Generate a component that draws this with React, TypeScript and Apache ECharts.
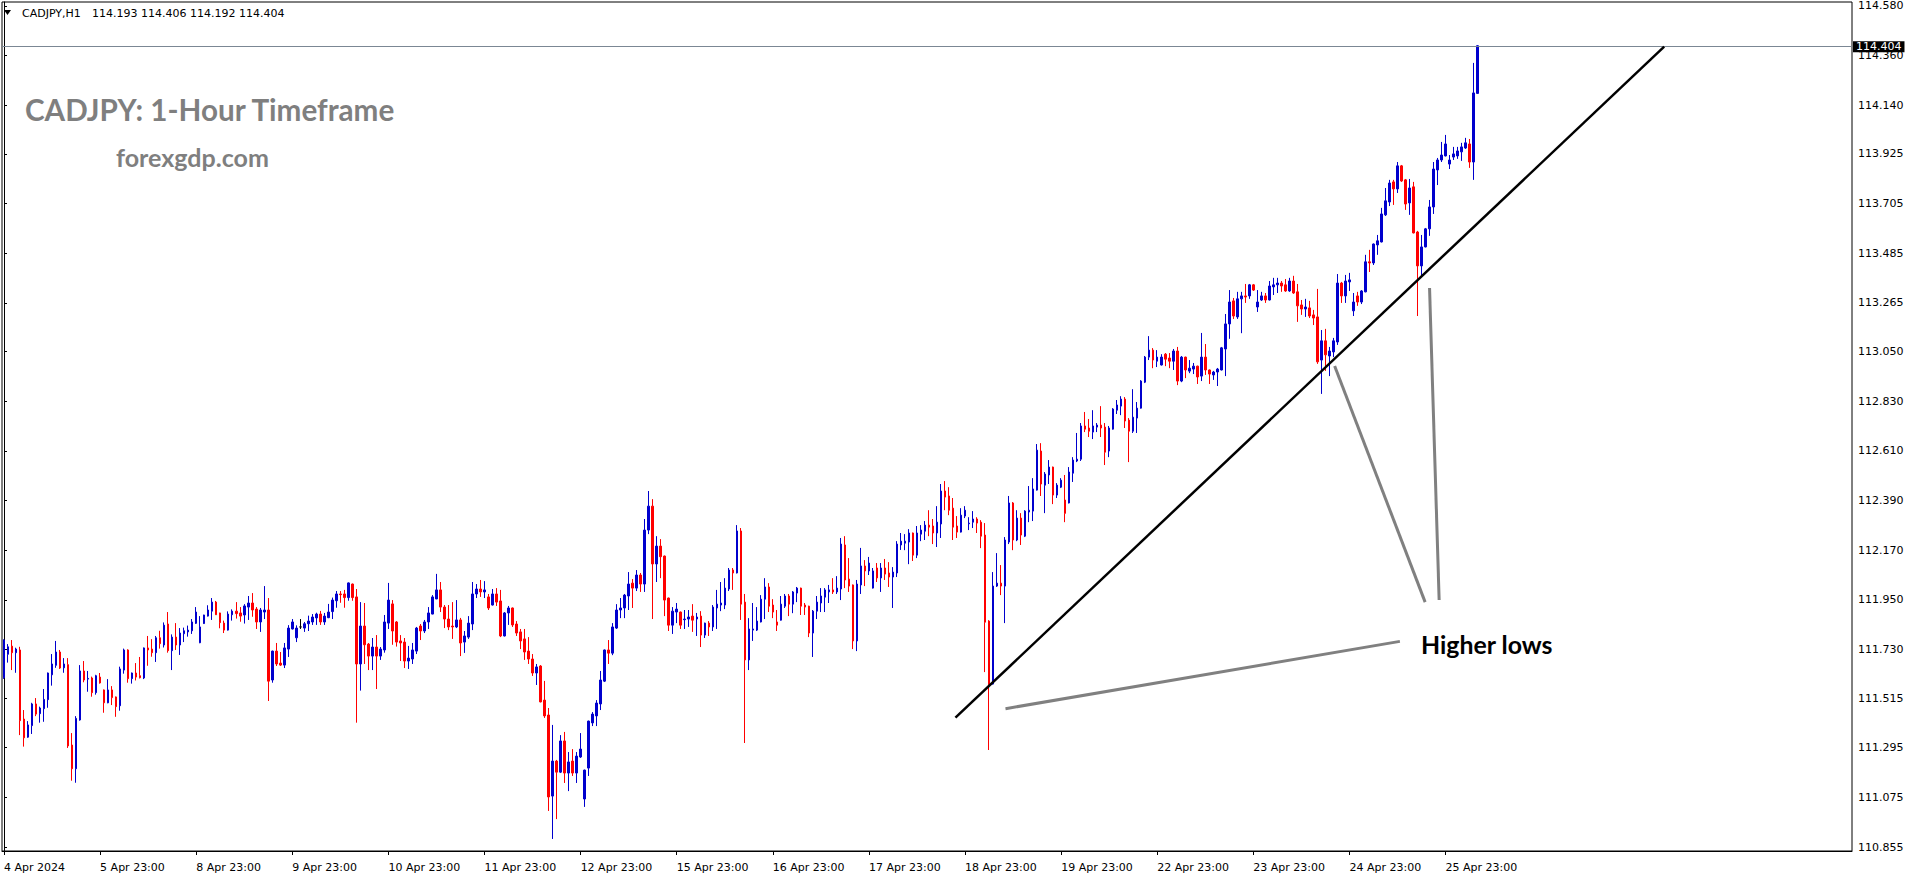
import React, { useEffect, useRef } from 'react';
import * as echarts from 'echarts';

// ---- Hourly CADJPY candles (4 Apr 2024 .. 26 Apr 2024) ----
const opens = [
111.605,111.709,111.745,111.716,111.728,111.422,111.342,111.393,111.489,111.446,111.468,111.508,111.618,111.660,111.719,111.649,111.663,111.307,111.202,111.418,
111.635,111.599,111.604,111.539,111.608,111.551,111.494,111.551,111.520,111.481,111.639,111.728,111.601,111.626,111.614,111.604,111.737,111.732,111.716,111.782,
111.750,111.843,111.725,111.785,111.750,111.800,111.808,111.813,111.846,111.760,111.845,111.878,111.900,111.940,111.892,111.847,111.816,111.884,111.900,111.892,
111.883,111.918,111.936,111.909,111.852,111.896,111.905,111.595,111.723,111.670,111.661,111.732,111.821,111.782,111.830,111.825,111.844,111.852,111.870,111.887,
111.852,111.871,111.898,111.946,111.976,111.976,111.960,112.020,111.963,111.666,111.834,111.754,111.701,111.741,111.701,111.728,111.847,111.932,111.852,111.768,
111.763,111.679,111.688,111.723,111.834,111.812,111.852,111.887,111.954,111.994,111.918,111.865,111.834,111.830,111.861,111.763,111.785,111.843,111.976,111.998,
111.985,111.963,111.927,111.976,111.945,111.790,111.892,111.914,111.843,111.808,111.777,111.723,111.688,111.626,111.657,111.506,111.440,111.081,111.236,111.187,
111.325,111.183,111.236,111.183,111.254,111.068,111.205,111.405,111.436,111.489,111.590,111.728,111.714,111.825,111.905,111.914,111.967,112.024,112.002,112.060,
112.020,112.259,112.365,112.109,112.188,112.144,111.958,111.838,111.896,111.896,111.862,111.865,111.878,111.865,111.878,111.794,111.847,111.830,111.914,111.927,
111.927,111.998,112.082,112.069,112.255,111.940,111.684,111.816,111.816,111.852,111.953,112.007,111.927,111.852,111.860,111.922,111.967,111.931,111.980,112.002,
111.927,111.922,111.803,111.900,111.936,111.962,111.985,111.994,111.985,111.998,112.193,112.042,112.016,111.768,112.016,112.100,112.078,112.002,112.091,112.047,
112.091,112.069,112.051,112.069,112.193,112.201,112.206,112.246,112.148,112.241,112.254,112.281,112.277,112.246,112.286,112.432,112.410,112.356,112.277,112.250,
112.321,112.287,112.294,112.308,112.294,112.237,111.856,111.577,112.011,112.024,112.011,112.206,112.379,112.215,112.312,112.232,112.339,112.343,112.436,112.609,
112.458,112.503,112.538,112.414,112.449,112.392,112.379,112.511,112.565,112.573,112.720,112.711,112.693,112.715,112.724,112.715,112.609,112.706,112.790,112.808,
112.839,112.746,112.697,112.755,112.799,112.914,113.025,113.056,113.007,112.990,113.038,113.021,113.007,113.052,112.919,113.025,112.963,112.972,112.985,112.941,
113.025,112.968,112.946,112.959,112.968,113.061,113.172,113.274,113.203,113.283,113.296,113.296,113.345,113.247,113.278,113.296,113.278,113.336,113.345,113.353,
113.345,113.318,113.362,113.314,113.256,113.238,113.243,113.212,113.203,113.012,113.097,113.030,113.048,113.092,113.353,113.296,113.358,113.230,113.296,113.269,
113.314,113.447,113.442,113.522,113.535,113.655,113.712,113.801,113.770,113.872,113.810,113.708,113.779,113.579,113.429,113.513,113.593,113.690,113.854,113.898,
113.916,113.880,113.911,113.916,113.934,113.951,113.969,113.889,114.193
];
const closes = [
111.772,111.742,111.716,111.732,111.415,111.339,111.396,111.489,111.444,111.471,111.509,111.626,111.666,111.719,111.648,111.666,111.303,111.202,111.425,111.635,
111.595,111.602,111.539,111.614,111.582,111.494,111.551,111.517,111.477,111.644,111.728,111.601,111.626,111.608,111.605,111.737,111.728,111.716,111.782,111.756,
111.838,111.725,111.785,111.750,111.803,111.813,111.816,111.852,111.896,111.830,111.883,111.905,111.940,111.884,111.849,111.816,111.887,111.900,111.889,111.878,
111.923,111.936,111.905,111.852,111.905,111.905,111.590,111.723,111.666,111.661,111.737,111.825,111.852,111.825,111.830,111.844,111.856,111.874,111.887,111.852,
111.878,111.896,111.949,111.976,111.973,111.960,112.025,111.960,111.666,111.834,111.751,111.701,111.741,111.701,111.732,111.852,111.949,111.812,111.763,111.759,
111.679,111.692,111.728,111.825,111.812,111.852,111.892,111.963,111.994,111.918,111.865,111.830,111.830,111.861,111.759,111.790,111.847,111.976,111.998,111.985,
111.994,111.914,111.976,111.940,111.790,111.892,111.914,111.839,111.803,111.768,111.719,111.688,111.626,111.653,111.498,111.436,111.077,111.236,111.187,111.325,
111.183,111.232,111.183,111.258,111.289,111.196,111.413,111.444,111.493,111.595,111.728,111.714,111.830,111.905,111.914,111.971,112.020,112.002,112.060,112.020,
112.259,112.365,112.109,112.188,112.141,111.949,111.838,111.900,111.909,111.838,111.865,111.874,111.860,111.874,111.794,111.847,111.830,111.918,111.931,111.936,
112.002,112.082,112.069,112.255,111.931,111.684,111.821,111.821,111.856,111.953,112.007,111.922,111.896,111.838,111.931,111.967,111.931,111.985,112.002,111.922,
111.918,111.803,111.900,111.940,111.967,111.994,111.994,111.985,112.002,112.197,112.038,112.011,111.768,112.020,112.100,112.078,112.113,112.078,112.047,112.091,
112.064,112.051,112.073,112.197,112.210,112.210,112.246,112.148,112.246,112.259,112.281,112.272,112.246,112.294,112.432,112.405,112.347,112.272,112.250,112.325,
112.347,112.290,112.308,112.290,112.232,111.851,111.577,112.011,112.024,112.011,112.215,112.379,112.215,112.312,112.237,112.343,112.347,112.441,112.613,112.463,
112.507,112.538,112.414,112.458,112.480,112.333,112.516,112.569,112.573,112.720,112.706,112.697,112.720,112.724,112.711,112.604,112.711,112.795,112.813,112.839,
112.742,112.697,112.759,112.799,112.919,113.025,113.056,113.012,113.025,113.025,113.016,113.007,113.052,112.919,113.025,112.968,112.976,112.985,112.937,113.025,
112.968,112.950,112.959,112.972,113.066,113.172,113.269,113.207,113.283,113.296,113.291,113.345,113.322,113.269,113.296,113.278,113.340,113.345,113.353,113.340,
113.318,113.362,113.309,113.252,113.238,113.247,113.207,113.198,113.004,113.097,113.035,113.052,113.097,113.353,113.296,113.362,113.367,113.269,113.269,113.318,
113.447,113.442,113.526,113.540,113.659,113.717,113.796,113.770,113.872,113.805,113.703,113.774,113.575,113.429,113.513,113.593,113.690,113.858,113.898,113.920,
113.969,113.898,113.925,113.938,113.956,113.974,113.889,114.195,114.404
];
const lows = [
111.600,111.672,111.639,111.627,111.351,111.300,111.339,111.356,111.435,111.406,111.410,111.472,111.570,111.649,111.644,111.627,111.294,111.149,111.140,111.415,
111.585,111.543,111.521,111.530,111.579,111.450,111.492,111.484,111.432,111.459,111.623,111.583,111.579,111.593,111.602,111.599,111.658,111.698,111.675,111.734,
111.739,111.716,111.639,111.728,111.706,111.763,111.787,111.799,111.843,111.758,111.843,111.876,111.861,111.883,111.824,111.803,111.814,111.858,111.867,111.853,
111.845,111.861,111.875,111.821,111.808,111.865,111.502,111.583,111.657,111.657,111.648,111.697,111.819,111.763,111.821,111.808,111.812,111.839,111.839,111.839,
111.839,111.869,111.865,111.915,111.937,111.915,111.946,111.946,111.406,111.548,111.666,111.639,111.639,111.555,111.684,111.716,111.821,111.751,111.743,111.679,
111.648,111.644,111.666,111.710,111.772,111.803,111.821,111.886,111.953,111.896,111.825,111.816,111.777,111.825,111.701,111.715,111.777,111.816,111.958,111.963,
111.958,111.905,111.925,111.923,111.785,111.788,111.839,111.830,111.790,111.732,111.684,111.666,111.613,111.573,111.496,111.427,111.015,110.891,110.979,111.183,
111.139,111.103,111.170,111.139,111.250,111.033,111.170,111.391,111.391,111.462,111.586,111.666,111.705,111.821,111.869,111.869,111.905,111.914,111.989,111.985,
111.985,112.241,111.865,112.029,112.046,111.878,111.812,111.799,111.847,111.821,111.821,111.830,111.808,111.790,111.741,111.781,111.790,111.812,111.821,111.900,
111.909,111.989,111.994,112.067,111.861,111.316,111.639,111.768,111.812,111.850,111.865,111.896,111.869,111.812,111.858,111.914,111.878,111.891,111.940,111.883,
111.883,111.785,111.697,111.865,111.896,111.896,111.936,111.976,111.976,111.949,112.002,111.985,111.732,111.723,111.976,112.011,112.060,112.000,112.029,111.985,
112.038,112.007,111.914,112.051,112.171,112.170,112.108,112.122,112.135,112.210,112.215,112.232,112.197,112.184,112.224,112.347,112.325,112.215,112.224,112.248,
112.312,112.259,112.268,112.246,112.179,111.630,111.285,111.575,112.007,111.971,111.847,112.197,112.170,112.210,112.193,112.228,112.294,112.299,112.434,112.410,
112.334,112.463,112.374,112.401,112.445,112.294,112.377,112.472,112.560,112.565,112.693,112.671,112.662,112.693,112.671,112.547,112.582,112.704,112.773,112.768,
112.711,112.560,112.689,112.689,112.797,112.910,113.012,112.976,112.981,112.988,112.985,112.976,112.968,112.901,112.914,112.932,112.954,112.950,112.906,112.919,
112.946,112.906,112.924,112.897,112.966,112.941,113.106,113.194,113.194,113.131,113.265,113.283,113.318,113.225,113.274,113.265,113.276,113.300,113.309,113.314,
113.314,113.314,113.305,113.181,113.212,113.203,113.198,113.167,112.995,112.862,112.964,112.941,113.025,113.079,113.265,113.265,113.318,113.207,113.252,113.260,
113.312,113.402,113.433,113.478,113.533,113.650,113.694,113.699,113.752,113.801,113.677,113.655,113.573,113.207,113.380,113.511,113.562,113.659,113.787,113.889,
113.914,113.858,113.898,113.903,113.894,113.947,113.863,113.810,114.192
];
const highs = [
111.775,111.754,111.772,111.738,111.742,111.462,111.413,111.494,111.515,111.477,111.555,111.628,111.710,111.768,111.728,111.692,111.692,111.360,111.435,111.661,
111.679,111.635,111.610,111.618,111.626,111.553,111.599,111.568,111.522,111.654,111.734,111.731,111.628,111.670,111.697,111.739,111.790,111.776,111.790,111.813,
111.850,111.896,111.797,111.847,111.825,111.827,111.836,111.865,111.918,111.878,111.884,111.926,111.958,111.945,111.893,111.858,111.899,111.908,111.940,111.918,
111.931,111.967,111.980,111.918,111.914,112.011,111.958,111.725,111.759,111.719,111.759,111.838,111.865,111.837,111.865,111.852,111.880,111.887,111.893,111.901,
111.892,111.932,111.960,111.989,111.989,111.994,112.027,112.022,111.998,111.940,111.936,111.759,111.781,111.794,111.741,111.883,112.025,111.949,111.856,111.794,
111.781,111.746,111.759,111.830,111.843,111.861,111.918,111.971,112.065,112.029,111.927,111.927,111.940,111.949,111.870,111.812,111.878,112.029,112.020,112.038,
112.033,111.976,111.998,112.002,111.994,111.896,111.923,111.916,111.856,111.821,111.821,111.785,111.710,111.666,111.661,111.591,111.471,111.396,111.241,111.351,
111.365,111.276,111.289,111.276,111.360,111.198,111.415,111.453,111.506,111.635,111.730,111.772,111.847,111.931,111.958,111.976,112.073,112.042,112.082,112.069,
112.308,112.432,112.396,112.232,112.219,112.146,111.960,111.918,111.936,111.898,111.905,111.905,111.931,111.892,111.900,111.849,111.856,111.927,111.994,112.029,
112.046,112.091,112.091,112.281,112.268,111.976,111.869,111.936,111.918,111.971,112.046,112.024,111.953,111.905,111.967,111.976,111.976,111.989,112.007,112.004,
111.936,111.924,111.905,111.967,112.002,112.002,112.016,112.046,112.055,112.224,112.232,112.135,112.018,112.038,112.180,112.126,112.140,112.091,112.113,112.113,
112.131,112.117,112.095,112.210,112.246,112.241,112.263,112.248,112.277,112.281,112.299,112.347,112.308,112.365,112.463,112.476,112.449,112.401,112.321,112.356,
112.365,112.316,112.343,112.316,112.303,112.290,111.860,112.073,112.157,112.104,112.228,112.410,112.383,112.347,112.334,112.347,112.454,112.489,112.640,112.644,
112.516,112.569,112.540,112.467,112.489,112.503,112.538,112.582,112.689,112.733,112.782,112.751,112.790,112.733,112.808,112.733,112.720,112.799,112.835,112.852,
112.848,112.755,112.883,112.826,112.923,113.030,113.118,113.065,113.056,113.038,113.043,113.043,113.061,113.070,113.030,113.027,113.012,112.999,112.987,113.132,
113.083,112.970,112.964,112.977,113.070,113.216,113.322,113.287,113.314,113.314,113.349,113.349,113.349,113.322,113.314,113.309,113.362,113.376,113.376,113.362,
113.371,113.376,113.385,113.349,113.278,113.283,113.274,113.234,113.327,113.145,113.150,113.070,113.110,113.393,113.358,113.389,113.398,113.309,113.314,113.322,
113.478,113.500,113.528,113.566,113.686,113.774,113.810,113.810,113.889,113.876,113.814,113.814,113.801,113.584,113.566,113.597,113.721,113.889,113.907,113.978,
114.009,113.920,113.956,113.956,113.974,113.996,113.991,114.328,114.406
];

// time-axis labels, one every 24 hourly bars
const dateLabels = [
  '4 Apr 2024', '5 Apr 23:00', '8 Apr 23:00', '9 Apr 23:00', '10 Apr 23:00', '11 Apr 23:00',
  '12 Apr 23:00', '15 Apr 23:00', '16 Apr 23:00', '17 Apr 23:00', '18 Apr 23:00', '19 Apr 23:00',
  '22 Apr 23:00', '23 Apr 23:00', '24 Apr 23:00', '25 Apr 23:00',
];
const barsPerLabel = 24;
const totalSlots = 462; // bars + empty chart shift on the right

// price-axis labels
const priceTicks = [
  110.855, 111.075, 111.295, 111.515, 111.73, 111.95, 112.17, 112.39, 112.61,
  112.83, 113.05, 113.265, 113.485, 113.705, 113.925, 114.14, 114.36, 114.58,
];
const priceMin = 110.8377;
const priceMax = 114.5977;
const lastPrice = 114.404;
const headerSymbol = 'CADJPY,H1';
const headerOHLC = '114.193 114.406 114.192 114.404';

// annotations in (bar index, price)
const trendLine = [[237.6, 111.428], [414.6, 114.4]];
const pointerLines = [
  [[250.1, 111.468], [348.6, 111.766]],
  [[332.3, 112.986], [354.9, 111.94]],
  [[356.0, 113.331], [358.4, 111.949]],
];

const BULL = '#0000cd';
const BEAR = '#ff0000';
const AXIS_FONT = 'DejaVu Sans';

function fitSize(text: string, family: string, weight: string, target: number): number {
  const c = document.createElement('canvas');
  const ctx = c.getContext('2d');
  if (!ctx) return 24;
  ctx.font = `${weight} 100px "${family}"`;
  const w = ctx.measureText(text).width;
  return w > 0 ? (100 * target) / w : 24;
}

export default function App() {
  const ref = useRef<HTMLDivElement>(null);

  useEffect(() => {
    if (!ref.current) return;
    const chart = echarts.init(ref.current, undefined, { renderer: 'svg' });

    const cats: string[] = [];
    for (let i = 0; i < totalSlots; i++) {
      const k = i / barsPerLabel;
      cats.push(i % barsPerLabel === 0 && k < dateLabels.length ? dateLabels[k] : '');
    }
    const candles = opens.map((o, i) => [o, closes[i], lows[i], highs[i]]);

    const titleText = 'CADJPY: 1-Hour Timeframe';
    const siteText = 'forexgdp.com';
    const noteText = 'Higher lows';
    const titleSize = fitSize(titleText, 'Lato', 'bold', 371);
    const siteSize = fitSize(siteText, 'Lato', 'bold', 153);
    const noteSize = fitSize(noteText, 'Lato', 'bold', 132);

    const showIdx = (idx: number) => cats[idx] !== '';

    const option: any = {
      animation: false,
      backgroundColor: '#ffffff',
      grid: {
        left: 2, top: 2, width: 1850, height: 849,
        show: true, borderColor: '#000', borderWidth: 1, backgroundColor: 'transparent',
      },
      xAxis: [
        {
          type: 'category',
          data: cats,
          boundaryGap: true,
          axisLine: { show: true, lineStyle: { color: '#000', width: 1 } },
          axisTick: { show: true, alignWithLabel: true, interval: showIdx, length: 4, lineStyle: { color: '#000' } },
          axisLabel: {
            show: true, interval: showIdx, align: 'left', margin: 11, color: '#000',
            fontFamily: AXIS_FONT, fontSize: 11, hideOverlap: false,
          },
          splitLine: { show: false },
        },
        { type: 'value', min: -0.5, max: totalSlots - 0.5, show: false, gridIndex: 0 },
      ],
      yAxis: {
        type: 'value',
        position: 'right',
        min: priceMin,
        max: priceMax,
        scale: true,
        axisLine: { show: true, lineStyle: { color: '#000', width: 1 } },
        axisTick: { show: true, length: 3, customValues: priceTicks, lineStyle: { color: '#000' } },
        axisLabel: {
          show: true, customValues: priceTicks, formatter: (v: number) => v.toFixed(3),
          color: '#000', fontFamily: AXIS_FONT, fontSize: 11, lineHeight: 10, margin: 6,
        },
        splitLine: { show: false },
      },
      series: [
        {
          type: 'candlestick',
          xAxisIndex: 0,
          yAxisIndex: 0,
          data: candles,
          barWidth: 2,
          silent: true,
          itemStyle: {
            color: BULL, color0: BEAR, borderColor: BULL, borderColor0: BEAR,
            borderColorDoji: '#000', borderWidth: 1,
          },
          markLine: {
            silent: true,
            symbol: ['none', 'none'],
            animation: false,
            lineStyle: { color: '#7b8794', width: 1, type: 'solid' },
            label: {
              show: true, position: 'end', distance: 1,
              formatter: () => lastPrice.toFixed(3),
              backgroundColor: '#000', color: '#fff', fontFamily: AXIS_FONT, fontSize: 11,
              lineHeight: 10, padding: [1, 3, 0, 3],
            },
            emphasis: { disabled: true },
            data: [{ yAxis: lastPrice }],
          },
        },
        {
          type: 'line', xAxisIndex: 1, yAxisIndex: 0, data: trendLine, symbol: 'none', silent: true, z: 5,
          lineStyle: { color: '#000', width: 2.5 },
        },
        ...pointerLines.map((pts) => ({
          type: 'line', xAxisIndex: 1, yAxisIndex: 0, data: pts, symbol: 'none', silent: true, z: 4,
          lineStyle: { color: '#808080', width: 3 },
        })),
      ],
      graphic: [
        { type: 'polygon', shape: { points: [[4, 10], [11, 10], [7.5, 15]] }, style: { fill: '#000' }, silent: true },
        {
          type: 'text', x: 22, y: 13, silent: true,
          style: { text: headerSymbol, fill: '#000', font: `11px "${AXIS_FONT}"`, verticalAlign: 'middle', align: 'left' },
        },
        {
          type: 'text', x: 92, y: 13, silent: true,
          style: { text: headerOHLC, fill: '#000', font: `11px "${AXIS_FONT}"`, verticalAlign: 'middle', align: 'left' },
        },
        {
          type: 'text', x: 25, y: 109, silent: true,
          style: { text: titleText, fill: '#7f7f7f', font: `bold ${titleSize.toFixed(2)}px Lato`, verticalAlign: 'middle', align: 'left' },
        },
        {
          type: 'text', x: 116, y: 157, silent: true,
          style: { text: siteText, fill: '#7f7f7f', font: `bold ${siteSize.toFixed(2)}px Lato`, verticalAlign: 'middle', align: 'left' },
        },
        {
          type: 'text', x: 1421, y: 644, silent: true,
          style: { text: noteText, fill: '#000', font: `bold ${noteSize.toFixed(2)}px Lato`, verticalAlign: 'middle', align: 'left' },
        },
      ],
    };

    chart.setOption(option);
    return () => chart.dispose();
  }, []);

  return (
    <div
      ref={ref}
      style={{ position: 'fixed', left: 0, top: 0, width: 1916, height: 884, background: '#fff' }}
    />
  );
}
